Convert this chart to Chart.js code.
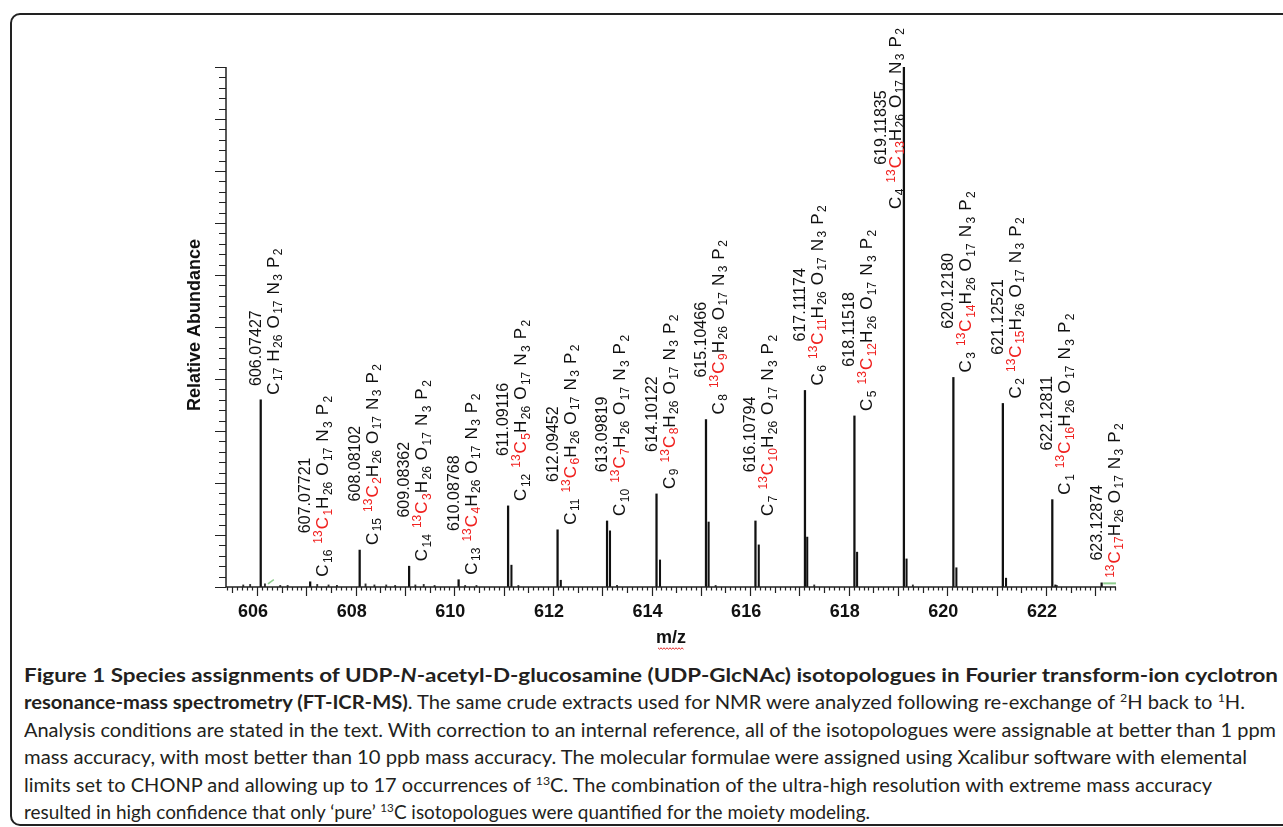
<!DOCTYPE html>
<html>
<head>
<meta charset="utf-8">
<title>UDP-GlcNAc isotopologues FT-ICR-MS</title>
<script src="https://cdn.jsdelivr.net/npm/chart.js@4.4.0/dist/chart.umd.min.js"></script>
<style>
  html, body { margin: 0; padding: 0; background: #fff; }
  body { width: 1283px; height: 827px; position: relative; overflow: hidden; }
  #frame { position: absolute; left: 10px; top: 13px; width: 1320px; height: 813px; border: 2px solid #222; border-radius: 10px; box-sizing: border-box; }
  #chartBox { position: absolute; left: 0; top: 0; width: 1283px; height: 660px; }
  #caption { position: absolute; left: 24px; top: 661px; font-family: Lato, "Open Sans", sans-serif; font-size: 19.5px; line-height: 27.4px; color: #231f20; }
  #caption .ln { display: block; white-space: nowrap; width: max-content; transform-origin: 0 0; }
  #caption sup { font-size: 12px; vertical-align: 7px; line-height: 0; }
</style>
</head>
<body>
<div id="frame"></div>
<div id="chartBox"><canvas id="msChart" width="1283" height="660"></canvas></div>
<div id="caption">
  <span class="ln"><b>Figure 1 Species assignments of UDP-<i>N</i>-acetyl-D-glucosamine (UDP-GlcNAc) isotopologues in Fourier transform-ion cyclotron</b></span>
  <span class="ln"><b>resonance-mass spectrometry (FT-ICR-MS)</b>. The same crude extracts used for NMR were analyzed following re-exchange of <sup>2</sup>H back to <sup>1</sup>H.</span>
  <span class="ln">Analysis conditions are stated in the text. With correction to an internal reference, all of the isotopologues were assignable at better than 1 ppm</span>
  <span class="ln">mass accuracy, with most better than 10 ppb mass accuracy. The molecular formulae were assigned using Xcalibur software with elemental</span>
  <span class="ln">limits set to CHONP and allowing up to 17 occurrences of <sup>13</sup>C. The combination of the ultra-high resolution with extreme mass accuracy</span>
  <span class="ln">resulted in high confidence that only ‘pure’ <sup>13</sup>C isotopologues were quantified for the moiety modeling.</span>
</div>
<script>
// assigned isotopologue peaks (m/z, relative abundance %)
const peakMz = [606.07427, 607.07721, 608.08102, 609.08362, 610.08768, 611.09116, 612.09452, 613.09819, 614.10122,
                615.10466, 616.10794, 617.11174, 618.11518, 619.11835, 620.12180, 621.12521, 622.12811, 623.12874];
const peakAbund = [36.0, 1.0, 7.1, 4.0, 1.4, 15.6, 11.0, 12.7, 17.9, 32.2, 12.7, 37.8, 32.9, 100, 40.3, 35.3, 16.8, 0.8];
const c12Count = [17, 16, 15, 14, 13, 12, 11, 10, 9, 8, 7, 6, 5, 4, 3, 2, 1, 0];
const c13Count = [0, 1, 2, 3, 4, 5, 6, 7, 8, 9, 10, 11, 12, 13, 14, 15, 16, 17];

// unlabelled satellite peaks just right of each isotopologue
const satMz = [611.159, 612.160, 613.158, 614.172, 615.158, 616.175, 617.158, 618.169, 619.172, 620.183, 621.190, 622.190];
const satAbund = [4.2, 1.3, 10.8, 5.2, 12.5, 8.1, 9.6, 6.7, 5.4, 3.7, 1.7, 0.4];

// baseline noise
const noiseMz = [605.72, 605.86, 606.16, 606.47, 606.62, 607.22, 607.45, 607.62, 608.20, 608.38, 608.62, 608.80,
                 609.21, 609.38, 609.60, 610.22, 610.45, 611.30, 613.30, 615.30, 617.30, 619.30, 622.22];
const noiseAbund = [0.4, 0.5, 0.6, 0.3, 0.3, 0.5, 0.4, 0.3, 0.6, 0.4, 0.4, 0.3, 0.4, 0.5, 0.3, 0.3, 0.3, 0.3, 0.3, 0.3, 0.4, 0.4, 0.3];

// green artefacts on the baseline
const greenLeftMz = [606.22, 606.34];
const greenLeftAbund = [0.6, 1.4];
const greenRightMz = [623.16, 623.42];
const greenRightAbund = [0.7, 0.7];

const xTickLabels = [606, 608, 610, 612, 614, 616, 618, 620, 622];
const xMin = 605.37, xMax = 623.42;

const FONT = '"Liberation Sans", Arial, sans-serif';
const INK = '#111';
const RED = '#f0201e';
const MAIN_PX = 17, SUB_PX = 12;

function pts(xs, ys) { return xs.map((x, i) => ({ x: x, y: ys[i] })); }

function formulaSegs(c12, c13) {
    const s = [];
    if (c12 > 0) s.push({ t: 'C', k: 'main' }, { t: String(c12), k: 'sub' }, { k: 'space' });
    if (c13 > 0) s.push({ t: '13', k: 'sup', red: true }, { t: 'C', k: 'main', red: true }, { t: String(c13), k: 'sub', red: true });
    [['H', '26'], ['O', '17'], ['N', '3'], ['P', '2']].forEach(function(p, j) {
        if (j > 0) s.push({ k: 'space' });
        s.push({ t: p[0], k: 'main', h: p[0] === 'H' }, { t: p[1], k: 'sub', hEnd: p[0] === 'H' });
    });
    return s;
}

function segFont(s) { return (s.k === 'main' ? MAIN_PX : SUB_PX) + 'px ' + FONT; }

function layoutSegs(ctx, segs) {
    let u = 0, hStart = 0, hEnd = 0;
    segs.forEach(function(s) {
        if (s.k === 'space') { s.u = u; u += 6; return; }
        if (s.k === 'sub') u += 1.5;
        ctx.font = segFont(s);
        s.u = u;
        if (s.h) hStart = u;
        u += ctx.measureText(s.t).width;
        if (s.k === 'sup') u += 1;
        if (s.hEnd) hEnd = u;
    });
    return { width: u, hMid: (hStart + hEnd) / 2 };
}

const peakLabels = {
    id: 'peakLabels',
    afterDatasetsDraw(chart) {
        const ctx = chart.ctx, xs = chart.scales.x, ys = chart.scales.y;
        ctx.save();
        ctx.textBaseline = 'alphabetic';
        peakMz.forEach(function(mz, i) {
            const px = xs.getPixelForValue(mz);
            const py = ys.getPixelForValue(peakAbund[i]);
            const segs = formulaSegs(c12Count[i], c13Count[i]);
            const lay = layoutSegs(ctx, segs);
            let u0 = 5, vMass = 0, vForm = 18;
            if (py - 5 - lay.width < 25) {   // tallest peak: label sits beside it
                u0 = py - 28 - lay.width;
                vMass = -18; vForm = -3;
            }
            ctx.save();
            ctx.translate(px, py);
            ctx.rotate(-Math.PI / 2);
            segs.forEach(function(s) {
                if (s.k === 'space') return;
                ctx.fillStyle = s.red ? RED : INK;
                ctx.font = segFont(s);
                const dv = s.k === 'sub' ? 3.5 : (s.k === 'sup' ? -6 : 0);
                ctx.fillText(s.t, u0 + s.u, vForm + dv);
            });
            const massTxt = mz.toFixed(5);
            ctx.font = '16px ' + FONT;
            ctx.fillStyle = INK;
            const mw = ctx.measureText(massTxt).width;
            ctx.fillText(massTxt, u0 + lay.hMid - mw / 2, vMass);
            ctx.restore();
        });
        ctx.restore();
    },
    afterDraw(chart) {
        const ctx = chart.ctx, xs = chart.scales.x, ys = chart.scales.y;
        const a = chart.chartArea;
        ctx.save();
        ctx.strokeStyle = '#222';
        ctx.lineWidth = 1.5;
        // axis lines
        ctx.beginPath();
        ctx.moveTo(a.left, a.top); ctx.lineTo(a.left, a.bottom); ctx.lineTo(a.right, a.bottom);
        ctx.stroke();
        // y ticks every 2 %, long every 10 %
        ctx.lineWidth = 1.2;
        ctx.beginPath();
        for (let v = 0; v <= 100; v += 2) {
            const y = Math.round(ys.getPixelForValue(v)) + 0.5;
            ctx.moveTo(a.left, y);
            ctx.lineTo(a.left - (v % 10 === 0 ? 11 : 7), y);
        }
        // x ticks every 0.1
        for (let k = Math.ceil(xMin * 10); k <= Math.floor(xMax * 10); k++) {
            const x = Math.round(xs.getPixelForValue(k / 10)) + 0.5;
            const len = k % 10 === 0 ? 9 : (k % 5 === 0 ? 6 : 3.5);
            ctx.moveTo(x, a.bottom);
            ctx.lineTo(x, a.bottom + len);
        }
        ctx.stroke();
        // x tick labels
        ctx.fillStyle = INK;
        ctx.font = 'bold 18px ' + FONT;
        ctx.textAlign = 'center';
        ctx.textBaseline = 'middle';
        xTickLabels.forEach(function(t) {
            ctx.fillText(String(t), xs.getPixelForValue(t) - 4, a.bottom + 25);
        });
        // x title with spell-check squiggle
        const tx = (a.left + a.right) / 2;
        ctx.fillText('m/z', tx, a.bottom + 51);
        ctx.strokeStyle = '#e02020';
        ctx.lineWidth = 1;
        ctx.beginPath();
        for (let x = tx - 13, j = 0; x <= tx + 13; x += 1.5, j++) {
            const y = a.bottom + 61 + (j % 2 ? 1.2 : -0.2);
            if (j === 0) ctx.moveTo(x, y); else ctx.lineTo(x, y);
        }
        ctx.stroke();
        // y title
        ctx.save();
        ctx.translate(a.left - 31, (a.top + a.bottom) / 2 - 2);
        ctx.rotate(-Math.PI / 2);
        ctx.font = 'bold 18px ' + FONT;
        ctx.fillText('Relative Abundance', 0, 0);
        ctx.restore();
        ctx.restore();
    }
};

new Chart(document.getElementById('msChart').getContext('2d'), {
    type: 'bar',
    data: {
        datasets: [
            { data: pts(peakMz, peakAbund), backgroundColor: INK, barThickness: 1.6, grouped: false },
            { data: pts(satMz, satAbund), backgroundColor: INK, barThickness: 1.4, grouped: false },
            { data: pts(noiseMz, noiseAbund), backgroundColor: '#333', barThickness: 1.2, grouped: false },
            { type: 'line', data: pts(greenLeftMz, greenLeftAbund), borderColor: '#8fce8f', borderWidth: 1.5, pointRadius: 0 },
            { type: 'line', data: pts(greenRightMz, greenRightAbund), borderColor: '#8fce8f', borderWidth: 2, pointRadius: 0 }
        ]
    },
    options: {
        responsive: false,
        animation: false,
        devicePixelRatio: 1,
        layout: { padding: { left: 226, right: 167, top: 67, bottom: 73 } },
        plugins: { legend: { display: false }, tooltip: { enabled: false } },
        scales: {
            x: { type: 'linear', min: xMin, max: xMax, offset: false, display: false },
            y: { min: 0, max: 100, display: false }
        }
    },
    plugins: [peakLabels]
});

// stretch each caption line to the width it has in the printed figure
const capRight = [1278, 1245, 1276, 1247, 1212, 870];
document.querySelectorAll('#caption .ln').forEach(function(el, i) {
    const w = el.getBoundingClientRect().width;
    el.style.transform = 'scaleX(' + ((capRight[i] - 24) / w).toFixed(4) + ')';
});
</script>
</body>
</html>
